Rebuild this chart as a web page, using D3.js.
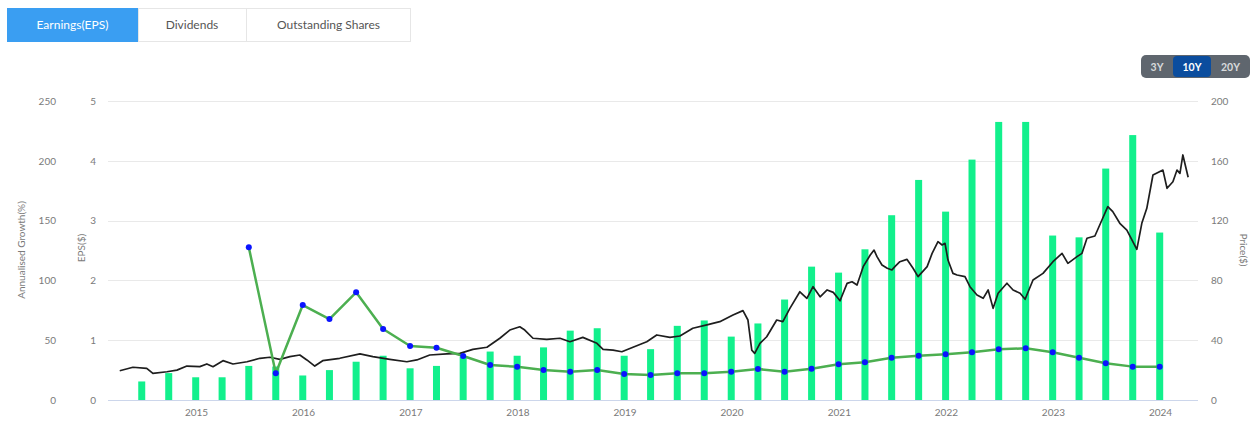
<!DOCTYPE html>
<html><head><meta charset="utf-8">
<script src="https://cdn.jsdelivr.net/npm/d3@7/dist/d3.min.js"></script>
<style>
html,body{margin:0;padding:0;background:#fff;}
svg{display:block;font-family:Lato,"Open Sans",sans-serif;}
</style></head>
<body><svg id="c" width="1258" height="421"></svg>
<script>
// ---------- DATA ----------
const tabs = ["Earnings(EPS)", "Dividends", "Outstanding Shares"];
const rangeButtons = ["3Y", "10Y", "20Y"];
const yearTicks = [2015, 2016, 2017, 2018, 2019, 2020, 2021, 2022, 2023, 2024];
const growthTicks = [0, 50, 100, 150, 200, 250];
const epsTicks = [0, 1, 2, 3, 4, 5];
const priceTicks = [0, 40, 80, 120, 160, 200];

const quarterDates = [
 "2014-06-30","2014-09-30","2014-12-31",
 "2015-03-31","2015-06-30","2015-09-30","2015-12-31",
 "2016-03-31","2016-06-30","2016-09-30","2016-12-31",
 "2017-03-31","2017-06-30","2017-09-30","2017-12-31",
 "2018-03-31","2018-06-30","2018-09-30","2018-12-31",
 "2019-03-31","2019-06-30","2019-09-30","2019-12-31",
 "2020-03-31","2020-06-30","2020-09-30","2020-12-31",
 "2021-03-31","2021-06-30","2021-09-30","2021-12-31",
 "2022-03-31","2022-06-30","2022-09-30","2022-12-31",
 "2023-03-31","2023-06-30","2023-09-30","2023-12-31"];
const epsValues = [0.31,0.45,0.38,0.38,0.57,0.56,0.41,0.50,0.64,0.74,0.53,0.57,0.72,0.81,
 0.74,0.88,1.16,1.20,0.74,0.85,1.24,1.33,1.06,1.28,1.68,2.23,2.13,2.52,
 3.09,3.68,3.15,4.02,4.65,4.65,2.75,2.72,3.87,4.43,2.80];
const growthValues = [null,null,null,null,127.7,22.3,79.4,67.7,90,59.4,45.2,43.7,36.8,29.3,
 27.8,25.1,23.7,25.1,21.7,20.9,22.3,22.3,23.7,25.9,23.7,26.2,29.8,31.5,
 35.4,37,38.2,39.9,42.4,43.2,39.9,35.4,30.7,27.9,27.9];

const priceDates = ["2014-04-16","2014-05-31","2014-07-17","2014-08-07","2014-09-24","2014-10-28","2014-12-01",
 "2015-01-14","2015-02-07","2015-02-28","2015-04-03","2015-05-07","2015-06-24","2015-08-07","2015-09-10","2015-10-14","2015-11-17","2015-12-21",
 "2016-01-14","2016-02-10","2016-03-08","2016-05-05","2016-07-13","2016-08-26","2016-10-23","2016-12-20",
 "2017-01-23","2017-03-08","2017-05-05","2017-06-19","2017-08-02","2017-09-19","2017-11-02","2017-12-06",
 "2018-01-09","2018-01-26","2018-02-23","2018-04-11","2018-05-26","2018-06-29","2018-08-12","2018-09-29","2018-10-20","2018-11-23","2018-12-23",
 "2019-01-30","2019-03-18","2019-04-21","2019-06-05","2019-07-09","2019-08-22","2019-10-09","2019-11-22",
 "2020-01-06","2020-02-09","2020-02-26","2020-03-10","2020-03-20","2020-04-07","2020-04-30","2020-06-03","2020-06-24","2020-07-18","2020-08-21","2020-09-14","2020-10-05","2020-10-29","2020-11-22","2020-12-13",
 "2021-01-05","2021-01-29","2021-02-15","2021-03-04","2021-03-25","2021-04-18","2021-05-01","2021-05-11","2021-05-28","2021-06-15","2021-07-01","2021-07-11","2021-07-28","2021-08-21","2021-09-11","2021-09-28","2021-10-29","2021-11-15","2021-12-05","2021-12-19","2021-12-29",
 "2022-01-08","2022-01-25","2022-02-08","2022-03-07","2022-03-24","2022-04-17","2022-05-08","2022-05-25","2022-06-11","2022-06-28","2022-07-28","2022-08-18","2022-09-11","2022-09-28","2022-10-25","2022-11-28",
 "2023-01-01","2023-02-01","2023-02-21","2023-03-24","2023-04-10","2023-04-27","2023-05-24","2023-06-17","2023-07-07","2023-07-24","2023-08-17","2023-09-10","2023-10-14","2023-10-31","2023-11-17","2023-12-08",
 "2024-01-11","2024-01-25","2024-02-14","2024-02-28","2024-03-09","2024-03-19","2024-04-06"];
const priceValues = [19.6,21.9,21.2,17.8,18.9,20,22.7,
 22.3,24.1,22.3,26.3,24.1,25.6,27.9,28.6,27.2,29,30.1,
 26.8,22.7,26.3,27.9,30.8,29,27.2,25.6,
 26.8,30.1,30.8,31.2,33.9,35.3,41.3,46.8,
 49,46.8,41.3,40.6,41.3,39,41.9,37.9,33.9,33.4,32.3,
 35.3,39,43.5,41.9,42.8,48,50.2,52.4,
 56.9,59.8,53.5,33.4,31.2,37.9,42.3,53.5,52.4,61.3,72.4,68,75.8,69,73.6,72,
 66.4,78,79.1,76.9,89.2,97,100.3,95.9,90.3,88.1,87,89.2,92.5,94.1,88.1,82.5,89.2,98.1,105.9,103.7,104.8,
 93.6,84.7,83.6,82.5,75.8,70.2,68,73.6,61.3,71.4,78.1,73.6,71.4,67.4,80.3,84.7,
 92.5,98.1,91.4,95.9,98.1,108.2,109.7,120.4,129.3,126,118.2,113.7,100.8,118.2,128.2,150.5,
 153.8,141.6,146,153.8,151.6,163.9,149];

// ---------- LAYOUT ----------
const L = 108, R = 1198, T = 101, B = 400;
const parse = d3.timeParse("%Y-%m-%d");
const x0 = d3.scaleTime().domain([new Date(2015,0,1), new Date(2024,0,1)]).range([196,1160]);
const x = d3.scaleTime().domain([x0.invert(L), x0.invert(R)]).range([L, R]);
const yG = d3.scaleLinear().domain([0,250]).range([B,T]);
const yE = d3.scaleLinear().domain([0,5]).range([B,T]);
const yP = d3.scaleLinear().domain([0,200]).range([B,T]);

const svg = d3.select("#c");

// ---------- TABS ----------
const tabX = [7,138,246,411];
const tg = svg.append("g");
tg.append("rect").attr("x",7.5).attr("y",8.5).attr("width",403).attr("height",33)
  .attr("fill","#fff").attr("stroke","#e6e6e6");
tabs.forEach((t,i)=>{
  if(i===0) tg.append("rect").attr("x",tabX[0]).attr("y",8).attr("width",tabX[1]-tabX[0]).attr("height",34).attr("fill","#3a9ef2");
  else tg.append("line").attr("x1",tabX[i]+0.5).attr("x2",tabX[i]+0.5).attr("y1",9).attr("y2",41).attr("stroke","#e6e6e6");
  tg.append("text").attr("x",(tabX[i]+tabX[i+1])/2).attr("y",29).attr("text-anchor","middle")
    .attr("font-size",12).attr("fill", i===0?"#fff":"#555").text(t);
});

// ---------- RANGE BUTTONS ----------
const bg = svg.append("g");
bg.append("rect").attr("x",1141).attr("y",55).attr("width",109).attr("height",23).attr("rx",5).attr("fill","#5f666e");
const bx = [1141,1173,1211,1250];
bg.append("rect").attr("x",1173).attr("y",56).attr("width",38).attr("height",21).attr("rx",4).attr("fill","#0b4d9e");
rangeButtons.forEach((b,i)=>{
  bg.append("text").attr("x",(bx[i]+bx[i+1])/2).attr("y",70.5).attr("text-anchor","middle")
    .attr("font-size",10.5).attr("font-weight","bold").attr("fill", i===1?"#fff":"#d8dadc").text(b);
});

// ---------- GRID ----------
const grid = svg.append("g");
growthTicks.forEach(v=>{
  grid.append("line").attr("x1",L).attr("x2",R).attr("y1",Math.round(yG(v))+0.5).attr("y2",Math.round(yG(v))+0.5)
    .attr("stroke", v===0 ? "#ccd6eb" : "#e9e9e9").attr("stroke-width",1);
});

// ---------- AXES ----------
const tickStyle = g => { g.select(".domain").remove(); g.selectAll("line").remove();
  g.selectAll("text").attr("fill","#7a7a7a").attr("font-size",10).attr("font-family","Lato,'Open Sans',sans-serif"); };
svg.append("g").attr("transform","translate(56,0)")
  .call(d3.axisLeft(yG).tickValues(growthTicks).tickSize(0).tickPadding(0)).call(tickStyle);
svg.append("g").attr("transform","translate(96,0)")
  .call(d3.axisLeft(yE).tickValues(epsTicks).tickSize(0).tickPadding(0).tickFormat(d3.format("d"))).call(tickStyle);
svg.append("g").attr("transform","translate(1211,0)")
  .call(d3.axisRight(yP).tickValues(priceTicks).tickSize(0).tickPadding(0)).call(tickStyle);
svg.append("g").attr("transform",`translate(0,${B+9})`)
  .call(d3.axisBottom(x).tickValues(yearTicks.map(y=>new Date(y,0,1))).tickSize(0).tickPadding(0).tickFormat(d3.timeFormat("%Y")))
  .call(tickStyle);

// axis titles
svg.append("text").attr("transform","translate(25,250) rotate(-90)").attr("text-anchor","middle")
  .attr("font-size",10).attr("fill","#7a7a7a").text("Annualised Growth(%)");
svg.append("text").attr("transform","translate(85,248) rotate(-90)").attr("text-anchor","middle")
  .attr("font-size",10).attr("fill","#7a7a7a").text("EPS($)");
svg.append("text").attr("transform","translate(1240,250) rotate(90)").attr("text-anchor","middle")
  .attr("font-size",10).attr("fill","#7a7a7a").text("Price($)");

// ---------- BARS ----------
const bars = quarterDates.map((d,i)=>({date:parse(d), eps:epsValues[i], g:growthValues[i]}));
const bw = 7;
svg.append("g").selectAll("rect").data(bars).join("rect")
  .attr("x", d=>x(d.date)-bw/2).attr("width",bw)
  .attr("y", d=>yE(d.eps)).attr("height", d=>B-yE(d.eps))
  .attr("fill","#12f08c");

// ---------- PRICE LINE ----------
const price = priceDates.map((d,i)=>({date:parse(d), p:priceValues[i]}));
svg.append("path").datum(price)
  .attr("d", d3.line().x(d=>x(d.date)).y(d=>yP(d.p)))
  .attr("fill","none").attr("stroke","#1e1e1e").attr("stroke-width",1.7).attr("stroke-linejoin","round");

// ---------- GROWTH LINE ----------
const gpts = bars.filter(d=>d.g!==null);
svg.append("path").datum(gpts)
  .attr("d", d3.line().x(d=>x(d.date)).y(d=>yG(d.g)))
  .attr("fill","none").attr("stroke","#4caf50").attr("stroke-width",2.5).attr("stroke-linejoin","round");
svg.append("g").selectAll("circle").data(gpts).join("circle")
  .attr("cx", d=>x(d.date)).attr("cy", d=>yG(d.g)).attr("r",3).attr("fill","#0a14ff");
</script></body></html>
